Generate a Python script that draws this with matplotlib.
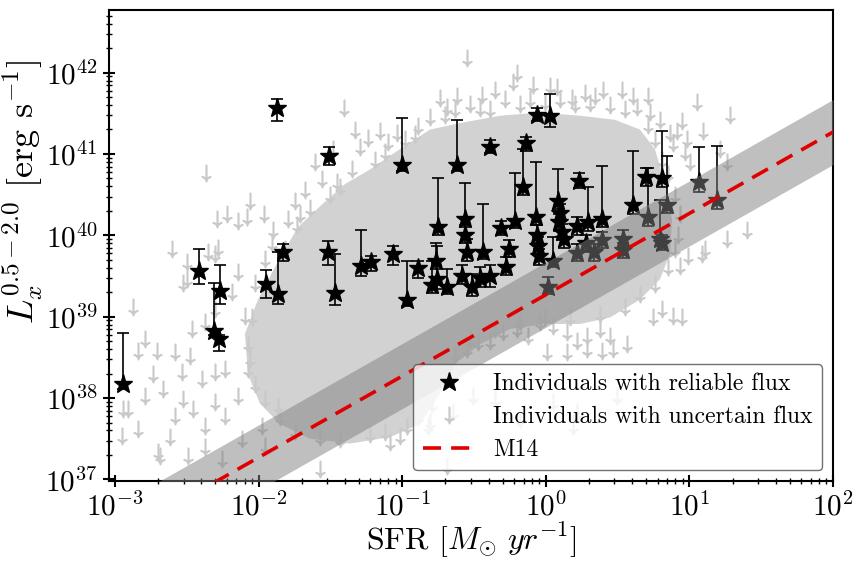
import numpy as np
import matplotlib.pyplot as plt
from matplotlib.lines import Line2D

plt.rcParams['font.family'] = 'serif'
plt.rcParams['font.serif'] = ['cmr10']
plt.rcParams['mathtext.fontset'] = 'cm'
plt.rcParams['axes.unicode_minus'] = False
plt.rcParams['axes.formatter.use_mathtext'] = True

# individuals with reliable flux: log10 SFR, log10 Lx, top and bottom of the error bar
star_logsfr = [-2.944, -2.415, -2.311, -2.276, -2.269, -1.948, -1.865, -1.830, -1.872, -1.510,
               -1.517, -1.468, -1.287, -1.217, -1.064, -1.001, -0.967, -0.890, -0.751, -0.765,
               -0.758, -0.792, -0.688, -0.618, -0.563, -0.563, -0.549, -0.584, -0.514, -0.437,
               -0.458, -0.389, -0.389, -0.312, -0.277, -0.256, -0.214, -0.159, -0.138, -0.061,
               0.029, -0.068, -0.061, -0.054, -0.047, 0.015, 0.050, 0.085, 0.099, 0.092,
               0.113, 0.127, 0.231, 0.217, 0.294, 0.391, 0.217, 0.280, 0.336, 0.391,
               0.538, 0.538, 0.607, 0.698, 0.809, 0.712, 0.844, 0.795, 0.809, 1.067,
               1.192]
star_loglx = [38.17, 39.56, 38.83, 38.72, 39.31, 39.40, 39.28, 39.79, 41.57, 40.98,
              39.80, 39.29, 39.62, 39.67, 39.77, 40.87, 39.21, 39.60, 40.10, 39.68,
              39.46, 39.39, 39.37, 40.86, 40.20, 40.01, 39.79, 39.50, 39.37, 39.80,
              39.47, 39.50, 41.08, 40.09, 39.61, 39.83, 40.17, 40.59, 41.13, 41.48,
              41.47, 40.23, 40.01, 39.87, 39.74, 39.37, 39.68, 40.42, 40.28, 40.16,
              40.04, 39.95, 40.67, 40.11, 40.16, 40.20, 39.78, 39.90, 39.79, 39.94,
              39.96, 39.82, 40.37, 40.72, 40.71, 40.23, 40.37, 39.96, 39.91, 40.65,
              40.44]
star_loglx_hi = [38.80, 39.83, 39.42, 38.77, 39.63, 39.57, 39.79, 39.89, 41.68, 41.08,
                 39.93, 39.77, 40.06, 39.75, 39.87, 41.44, 39.69, 39.69, 40.71, 39.91,
                 39.87, 39.68, 39.58, 41.42, 40.64, 40.13, 39.95, 39.64, 39.52, 40.38,
                 39.61, 39.63, 41.17, 40.17, 39.73, 39.94, 40.76, 41.06, 41.21, 41.56,
                 41.74, 40.90, 40.13, 39.98, 39.83, 39.49, 39.98, 40.81, 40.38, 40.26,
                 40.14, 40.05, 40.77, 40.22, 40.60, 40.85, 39.89, 40.00, 39.89, 40.04,
                 40.06, 39.91, 41.04, 40.83, 41.28, 40.83, 40.98, 40.43, 40.01, 41.08,
                 41.10]
star_loglx_lo = [38.11, 39.40, 38.77, 38.58, 39.15, 39.23, 39.15, 39.68, 41.41, 40.87,
                 39.63, 39.14, 39.50, 39.56, 39.63, 40.79, 39.13, 39.47, 40.00, 39.58,
                 39.34, 39.29, 39.28, 40.79, 40.10, 39.91, 39.68, 39.40, 39.25, 39.71,
                 39.37, 39.37, 41.01, 40.00, 39.51, 39.73, 40.09, 40.49, 41.04, 41.41,
                 41.33, 40.13, 39.91, 39.77, 39.64, 39.28, 39.61, 40.32, 40.17, 40.05,
                 39.94, 39.85, 40.58, 40.00, 40.05, 40.10, 39.68, 39.80, 39.69, 39.84,
                 39.87, 39.72, 40.26, 40.61, 40.60, 40.12, 40.27, 39.87, 39.82, 40.53,
                 40.32]

# individuals with uncertain flux (upper limits): log10 SFR, log10 Lx
arrow_logsfr = [-2.366, -2.290, -2.220, -2.143, -2.081, -2.060, -1.962, -1.900, -1.795, -1.747,
                -1.733, -1.607, -1.558, -1.677, -1.454, -1.482, -1.405, -1.329, -1.350, -1.294,
                -1.238, -1.155, -1.099, -1.036, -0.890, -0.806, -0.737, -0.688, -0.549, -0.200,
                -0.228, -0.354, -0.618, -0.444, -0.089, 0.029, 0.078, 0.273, 0.343, 0.183,
                0.398, 0.531, 0.607, 0.712, 0.635, 0.726, 0.795, 1.053, 1.283, 1.095,
                0.949, 0.914, 0.983, 0.969, 0.886, 0.865, 1.262, 1.004, 1.213,
                1.401, 1.262, 1.109, 1.088, 0.990, 0.935, 0.949, 0.886, 0.809, 0.747,
                0.566, 0.447, 0.468, 0.377, 0.391, 0.287, 0.287, 0.217, 0.148, 0.148,
                0.050, 0.008, -0.040, -0.124, -0.200, -0.298, -0.389, -0.472, -0.549,
                -0.646, -0.806, -0.507, -0.354, 0.050, 0.189, 0.496, -0.180, -0.688, -1.085,
                -1.015, -1.120, -0.820, 0.217, -0.967, -1.572,
                -2.603, -2.875, -2.791, -2.708, -2.840, -2.735, -2.909, -2.951, -2.840, -2.701,
                -2.617, -2.791, -2.666, -2.582, -2.533, -2.478, -2.526, -2.457, -2.582, -2.394,
                -2.304, -2.234, -2.304, -2.373, -2.234, -2.143, -2.074, -2.373, -2.464, -2.304,
                -2.185, -2.143, -2.095, -2.025, -1.955, -1.865, -1.976, -2.116, -2.255, -2.373,
                -2.492, -1.955, -1.907, -2.304, -2.499, -2.526, -2.944, -2.687, -2.352, -2.283,
                -2.499,
                -1.712, -1.642, -1.503, -1.433, -1.189, -1.120, -0.981, -0.911, -0.702, -0.632,
                -0.528, -0.458, -0.389, -0.284, -0.180, -0.110, -0.006, 0.099, 0.203, 0.308,
                0.447, 0.552, 0.712, 0.760, 0.809, 0.851, 0.900, 0.935, 0.921, 0.900,
                0.851, 0.760, 0.656, 0.552, 0.377, 0.169, -0.006, -0.180, -0.354, -0.528,
                -0.632, -0.702, -0.792, -0.890, -1.224, -1.433, -1.572, -1.747, -1.851, -1.955,
                -2.025, -2.060, -2.074, -2.046, -1.955, -1.816]
arrow_loglx = [40.77, 40.20, 40.26, 40.17, 40.23, 40.42, 40.26, 40.07, 40.20, 40.42,
               40.13, 40.90, 40.69, 40.56, 40.65, 41.06, 41.57, 41.30, 40.81, 41.09,
               41.20, 41.28, 41.15, 41.26, 41.34, 41.45, 41.69, 41.58, 42.18, 42.00,
               41.89, 41.79, 41.71, 41.73, 41.85, 41.83, 41.82, 41.75, 41.71, 41.69,
               41.79, 41.79, 41.71, 41.71, 41.58, 41.51, 41.42, 41.64, 41.48, 41.28,
               41.40, 41.28, 41.18, 41.02, 41.14, 41.26, 40.90, 40.90, 41.06,
               40.07, 39.95, 39.83, 39.77, 39.74, 39.62, 38.99, 39.01, 39.09, 38.99,
               38.66, 38.76, 38.60, 38.85, 38.58, 38.76, 38.60, 38.70, 38.81, 38.56,
               38.88, 38.56, 38.93, 38.76, 38.85, 38.81, 38.70, 38.69, 38.60,
               37.83, 37.71, 38.02, 37.99, 37.95, 37.66, 38.02, 37.74, 37.17, 37.46,
               37.53, 37.58, 37.66, 37.83, 37.66, 37.13,
               39.83, 39.12, 38.72, 38.58, 38.58, 38.29, 37.87, 37.53, 37.62, 37.34,
               37.52, 38.02, 38.11, 38.56, 38.32, 38.52, 37.99, 37.87, 37.78, 38.23,
               38.32, 38.36, 37.95, 37.66, 37.78, 38.02, 38.36, 38.93, 38.85, 39.09,
               39.30, 39.55, 39.01, 39.42, 39.71, 37.90, 37.66, 37.50, 37.25, 37.40,
               37.29, 37.41, 39.91, 39.77, 39.46, 39.42, 37.87, 37.29, 39.79, 39.85,
               39.67,
               40.26, 40.34, 40.50, 40.59, 40.93, 41.03, 41.18, 41.24, 41.48, 41.55,
               41.61, 41.57, 41.55, 41.67, 41.62, 41.67, 41.64, 41.67, 41.61, 41.63,
               41.60, 41.55, 41.36, 41.18, 40.93, 40.75, 40.50, 40.26, 40.01, 39.83,
               39.61, 39.40, 39.28, 39.12, 39.03, 38.99, 38.99, 38.94, 38.85, 38.72,
               38.54, 38.23, 37.93, 37.77, 37.56, 37.50, 37.52, 37.60, 37.77, 37.99,
               38.17, 38.48, 38.66, 39.00, 39.40, 39.83]

# outline of the area where the upper-limit arrows merge into a solid cloud
cloud_logsfr = [-2.095, -2.004, -1.865, -1.726, -1.558, -1.398, -1.224, -1.015, -0.806, -0.597,
                -0.319, -0.040, 0.238, 0.482, 0.656, 0.760, 0.830, 0.879, 0.865, 0.795,
                0.656, 0.447, 0.238, -0.006, -0.249, -0.458, -0.632, -0.737, -0.876, -1.085,
                -1.364, -1.642, -1.851, -1.990, -2.074]
cloud_loglx = [38.79, 39.21, 39.68, 40.10, 40.38, 40.63, 40.81, 41.06, 41.30, 41.38,
               41.47, 41.51, 41.47, 41.42, 41.30, 41.06, 40.63, 40.20, 39.77, 39.46,
               39.21, 38.99, 38.91, 38.91, 38.85, 38.66, 38.42, 38.05, 37.68, 37.52,
               37.44, 37.50, 37.68, 37.93, 38.29]

# M14 relation: Lx = norm * SFR with +-0.4 dex scatter
m14_norm = 1.86e39
m14_scatter = 0.4
sfr_range = np.array([1e-3, 1e2])

star_x = 10 ** np.array(star_logsfr)
star_y = 10 ** np.array(star_loglx)
yerr = [star_y - 10 ** np.array(star_loglx_lo), 10 ** np.array(star_loglx_hi) - star_y]

arrow_color = '#c9c9c9'
cloud_color = '#d2d2d2'

fig = plt.figure(figsize=(8.54, 5.61), dpi=100)
ax = fig.add_axes([0.1276, 0.1426, 0.8478, 0.8396])

ax.fill(10 ** np.array(cloud_logsfr), 10 ** np.array(cloud_loglx), color=cloud_color, lw=0, zorder=1)
ax.plot(10 ** np.array(arrow_logsfr), 10 ** np.array(arrow_loglx), ls='none',
        marker=r'$\downarrow$', ms=12, color=arrow_color, zorder=2)
ax.errorbar(star_x, star_y, yerr=yerr, fmt='*', color='k', ms=14, capsize=4,
            elinewidth=1.2, capthick=1.2, zorder=3)
ax.fill_between(sfr_range, m14_norm * sfr_range * 10 ** -m14_scatter,
                m14_norm * sfr_range * 10 ** m14_scatter, color='gray', alpha=0.5, lw=0, zorder=4)
ax.plot(sfr_range, m14_norm * sfr_range, color='#e00000', dashes=(5, 2.8), lw=2.6, zorder=5)

ax.set_xscale('log')
ax.set_yscale('log')
ax.set_xlim(10 ** -3.042, 1e2)
ax.set_ylim(10 ** 36.98, 10 ** 42.77)

for s in ax.spines.values():
    s.set_linewidth(1.5)
ax.tick_params(which='major', direction='inout', length=8, width=1.5, labelsize=21, pad=4)
ax.tick_params(which='minor', direction='inout', length=4, width=1)

ax.set_xlabel(r'SFR [$M_{\odot}\ yr^{-1}$]', fontsize=23)
ax.xaxis.set_label_coords(0.5, -0.085)
ax.set_ylabel(r'$L_x^{0.5-2.0}$ [erg s$^{-1}$]', fontsize=26)
ax.yaxis.set_label_coords(-0.088, 0.614)

handles = [
    Line2D([], [], ls='none', marker='*', color='k', ms=14),
    Line2D([], [], ls='none', marker=r'$\downarrow$', color=arrow_color, ms=12),
    Line2D([], [], color='#e00000', dashes=(5, 2.8), lw=2.6),
]
labels = ['Individuals with reliable flux', 'Individuals with uncertain flux', 'M14']
leg = ax.legend(handles, labels, loc='lower right', fontsize=17, framealpha=0.8,
                edgecolor='0.3', handlelength=2.2, labelspacing=0.45, borderaxespad=0.45)
leg.set_zorder(10)

fig.savefig('out.png', dpi=100)
